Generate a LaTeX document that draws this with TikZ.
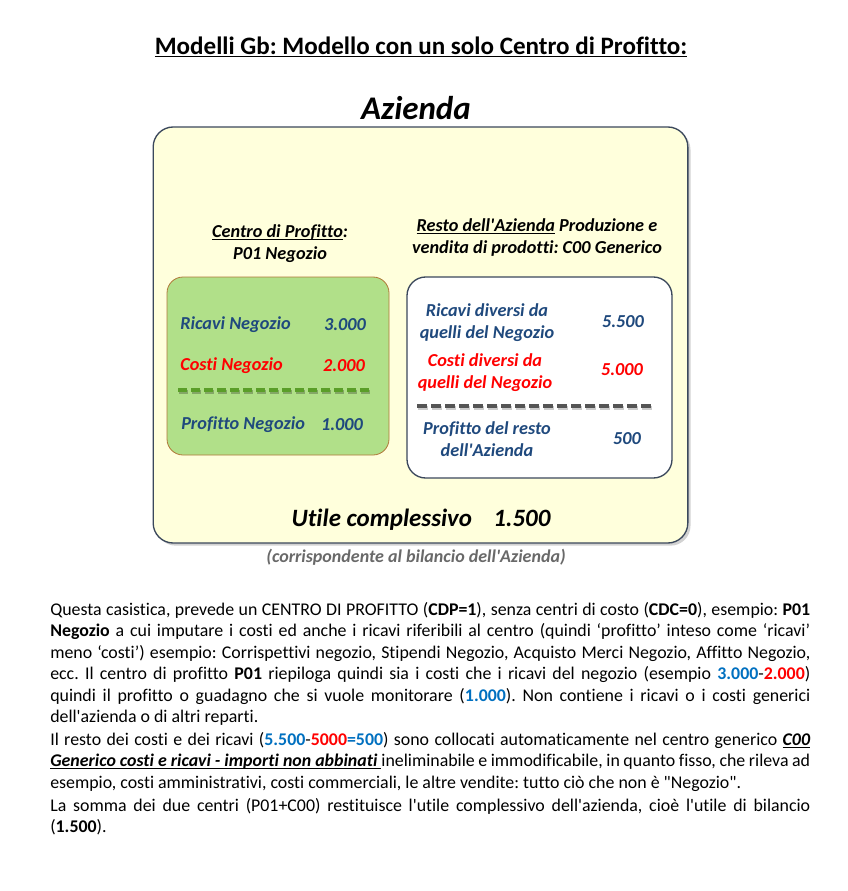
\documentclass[tikz,border=0pt]{standalone}
\usepackage{fontspec}
\setmainfont{Carlito}[Ligatures={TeXOff,NoCommon}]
\usetikzlibrary{positioning,shadows}
\definecolor{boxyellow}{RGB}{255,255,220}
\definecolor{boxgreen}{RGB}{177,224,137}
\definecolor{edgegreen}{RGB}{176,120,56}
\definecolor{edgeslate}{RGB}{59,72,92}
\definecolor{txtblue}{RGB}{31,73,125}
\definecolor{numblue}{RGB}{0,112,192}
\definecolor{dashgreen}{RGB}{90,158,40}
\definecolor{dashgray}{RGB}{85,85,85}
\definecolor{capgray}{RGB}{105,105,105}
\newcommand{\numb}[1]{\textbf{\textcolor{numblue}{#1}}}
\newcommand{\numr}[1]{\textbf{\textcolor{red}{#1}}}
\newcommand{\undl}[1]{\setbox0\hbox{#1}\rlap{\rule[-0.13em]{\wd0}{0.065em}}\box0\relax}
\frenchspacing

\begin{document}
\begin{tikzpicture}[
  x=0.75pt, y=-0.75pt,
  bx/.style={font=\fontsize{13.7}{16.5}\selectfont\bfseries\itshape, inner sep=0pt},
  lbl/.style={bx, text=txtblue},
  cst/.style={bx, text=red},
  hd/.style={bx, align=center},
  sepline/.style={line width=3pt, dash pattern=on 6.75pt off 3pt},
  body/.style={font=\fontsize{13.4}{16.1}\selectfont\frenchspacing, text width=570pt, align=justify, inner sep=0pt, anchor=north west}
]
\useasboundingbox[fill=white] (0,0) rectangle (848,891);

% titles
\node[font=\fontsize{18.8}{22}\selectfont\bfseries] (title) at (421,47) {\undl{Modelli Gb: Modello con un solo Centro di Profitto:}};
\node[font=\fontsize{24.75}{28}\selectfont\bfseries\itshape] (azienda) at (416,108) {Azienda};

% company box
\node[draw=edgeslate, line width=1pt, fill=boxyellow, rounded corners=15pt, minimum width=401pt, minimum height=312pt,
  drop shadow={shadow xshift=2pt, shadow yshift=-2pt, opacity=0.35}] (azbox) at (420.5,335) {};

% profit centre
\node[hd] (hdleft) at (280,244) {\undl{Centro di Profitto}:\\P01 Negozio};
\node[draw=edgegreen, line width=0.6pt, fill=boxgreen, rounded corners=12pt, minimum width=166.5pt, minimum height=133.5pt] (cdp) at (278,366) {};
\node[lbl, anchor=west] (ricneg) at (180,325) {Ricavi Negozio};
\node[lbl] (ricnegv) at (345,325) {3.000};
\node[cst, anchor=west] (cosneg) at (180,366) {Costi Negozio};
\node[cst] (cosnegv) at (344,366) {2.000};
\draw[sepline, draw=black, opacity=0.25] (179,392) -- (374,392);
\draw[sepline, draw=dashgreen] (178,390) -- (373,390);
\node[lbl, anchor=west] (proneg) at (181,425) {Profitto Negozio};
\node[lbl] (pronegv) at (342,425) {1.000};

% rest of the company
\node[hd] (hdright) at (537,238) {\undl{Resto dell'Azienda} Produzione e\\vendita di prodotti: C00 Generico};
\node[draw=edgeslate, line width=1pt, fill=white, rounded corners=14pt, minimum width=198.75pt, minimum height=150.75pt] (resto) at (539.5,377.5) {};
\node[lbl, align=center] (ricdiv) at (487,323) {Ricavi diversi da\\quelli del Negozio};
\node[lbl] (ricdivv) at (623,322) {5.500};
\node[cst, align=center] (cosdiv) at (485,373) {Costi diversi da\\quelli del Negozio};
\node[cst] (cosdivv) at (622,370) {5.000};
\draw[sepline, draw=black, opacity=0.2, dash pattern=on 7.5pt off 3pt] (418,408) -- (656,408);
\draw[sepline, draw=dashgray, dash pattern=on 7.5pt off 3pt] (417,406) -- (655,406);
\node[lbl, align=center] (prores) at (487,439) {Profitto del resto\\dell'Azienda};
\node[lbl] (proresv) at (627,439) {500};

% total
\node[font=\fontsize{18.7}{22}\selectfont\bfseries\itshape] (utile) at (421,520) {Utile complessivo\hspace{16pt}1.500};
\node[font=\fontsize{13.5}{16}\selectfont\bfseries\itshape, text=capgray] (caption) at (416,557) {(corrispondente al bilancio dell'Azienda)};

% description
\node[body] (par1) at (50,602) {Questa casistica, prevede un CENTRO DI PROFITTO (\textbf{CDP=1}), senza centri di costo (\textbf{CDC=0}), esempio: \textbf{P01}\linebreak
\textbf{Negozio} a cui imputare i costi ed anche i ricavi riferibili al centro (quindi ‘profitto’ inteso come ‘ricavi’\linebreak
meno ‘costi’) esempio: Corrispettivi negozio, Stipendi Negozio, Acquisto Merci Negozio, Affitto Negozio,\linebreak
ecc. Il centro di profitto \textbf{P01} riepiloga quindi sia i costi che i ricavi del negozio (esempio \numb{3.000}-\numr{2.000})\linebreak
quindi il profitto o guadagno che si vuole monitorare (\numb{1.000}). Non contiene i ricavi o i costi generici\linebreak
dell'azienda o di altri reparti.};
\node[body] (par2) at (50,732) {Il resto dei costi e dei ricavi (\numb{5.500}-\numr{5000}\numb{=500}) sono collocati automaticamente nel centro generico \undl{\textbf{\textit{C00}}}\linebreak
\undl{\textbf{\textit{Generico costi e ricavi - importi non abbinati}}\ }ineliminabile e immodificabile, in quanto fisso, che rileva ad\linebreak
esempio, costi amministrativi, costi commerciali, le altre vendite: tutto ciò che non è "Negozio".};
\node[body] (par3) at (50,798) {La somma dei due centri (P01+C00) restituisce l'utile complessivo dell'azienda, cioè l'utile di bilancio\linebreak
(\textbf{1.500}).};
\end{tikzpicture}
\end{document}
